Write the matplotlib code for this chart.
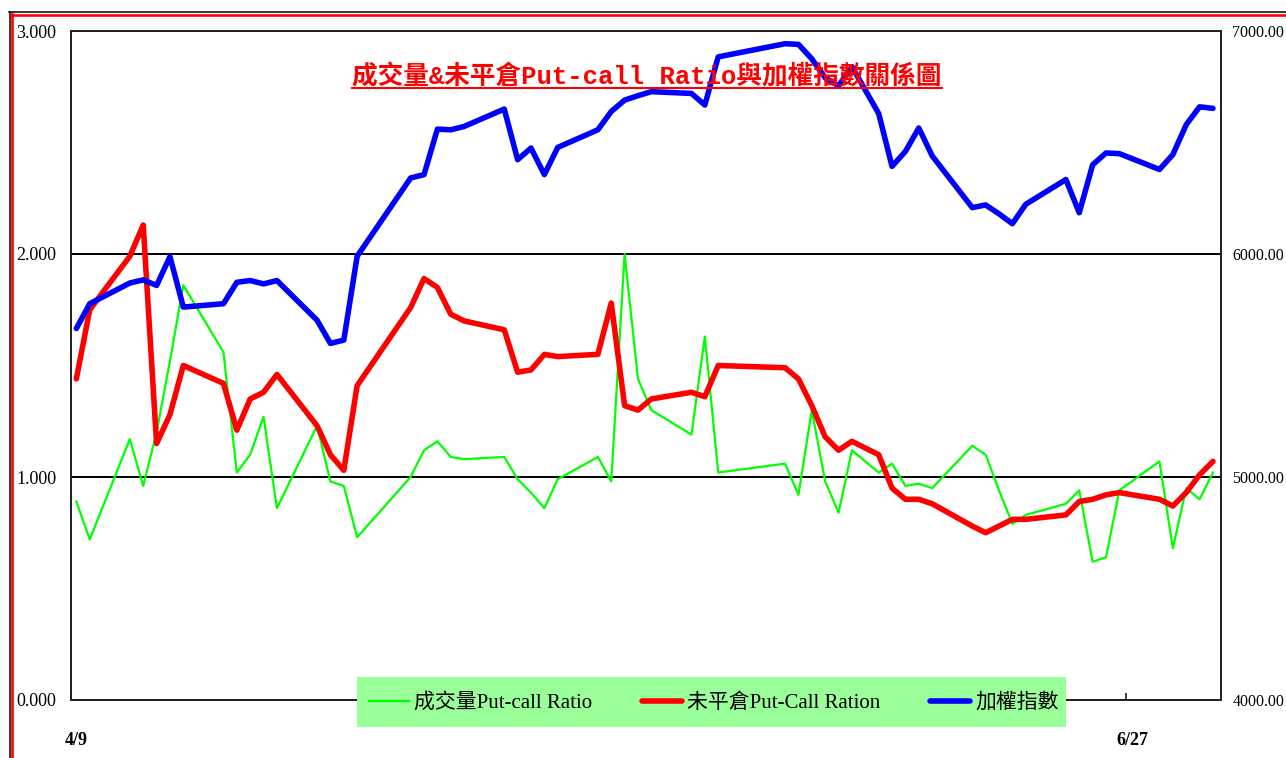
import matplotlib
matplotlib.use('Agg')
import matplotlib.pyplot as plt
from matplotlib.lines import Line2D
from matplotlib.patches import Rectangle
import pandas as pd

# trading days (2009)
dates = ['4/9', '4/10', '4/13', '4/14', '4/15', '4/16', '4/17',
         '4/20', '4/21', '4/22', '4/23', '4/24',
         '4/27', '4/28', '4/29', '4/30',
         '5/4', '5/5', '5/6', '5/7', '5/8',
         '5/11', '5/12', '5/13', '5/14', '5/15',
         '5/18', '5/19', '5/20', '5/21', '5/22',
         '5/25', '5/26', '5/27',
         '6/1', '6/2', '6/3', '6/4', '6/5', '6/6',
         '6/8', '6/9', '6/10', '6/11', '6/12',
         '6/15', '6/16', '6/17', '6/18', '6/19',
         '6/22', '6/23', '6/24', '6/25', '6/26',
         '6/29', '6/30', '7/1', '7/2', '7/3']

vol_pcr = [0.89, 0.72, 1.17, 0.96, 1.20, 1.52, 1.86,
           1.56, 1.02, 1.10, 1.27, 0.86,
           1.23, 0.98, 0.96, 0.73,
           1.00, 1.12, 1.16, 1.09, 1.08,
           1.09, 0.99, 0.93, 0.86, 0.99,
           1.09, 0.98, 2.00, 1.44, 1.30,
           1.19, 1.63, 1.02,
           1.06, 0.92, 1.30, 0.98, 0.84, 1.12,
           1.02, 1.06, 0.96, 0.97, 0.95,
           1.14, 1.10, 0.94, 0.79, 0.83,
           0.88, 0.94, 0.62, 0.64, 0.94,
           1.07, 0.68, 0.95, 0.90, 1.02]

oi_pcr = [1.44, 1.75, 1.99, 2.13, 1.15, 1.28, 1.50,
          1.42, 1.21, 1.35, 1.38, 1.46,
          1.23, 1.10, 1.03, 1.41,
          1.76, 1.89, 1.85, 1.73, 1.70,
          1.66, 1.47, 1.48, 1.55, 1.54,
          1.55, 1.78, 1.32, 1.30, 1.35,
          1.38, 1.36, 1.50,
          1.49, 1.44, 1.32, 1.18, 1.12, 1.16,
          1.10, 0.95, 0.90, 0.90, 0.88,
          0.78, 0.75, 0.78, 0.81, 0.81,
          0.83, 0.89, 0.90, 0.92, 0.93,
          0.90, 0.87, 0.93, 1.01, 1.07]

taiex = [5666, 5777, 5870, 5884, 5859, 5988, 5762,
         5777, 5873, 5881, 5866, 5881,
         5703, 5599, 5614, 5990,
         6341, 6356, 6560, 6557, 6572,
         6650, 6423, 6475, 6356, 6478,
         6557, 6639, 6690, 6710, 6728,
         6720, 6668, 6884,
         6943, 6940, 6875, 6790, 6754, 6840,
         6630, 6393, 6460, 6565, 6440,
         6208, 6220, 6180, 6136, 6223,
         6334, 6185, 6400, 6453, 6450,
         6379, 6446, 6580, 6660, 6653]

tick_dates = ['4/9', '6/27']
title = '成交量&未平倉Put-call Ratio與加權指數關係圖'
labels = ['成交量Put-call Ratio', '未平倉Put-Call Ration', '加權指數']

W, H = 1286, 758
fig = plt.figure(figsize=(W / 100, H / 100), dpi=100)


def fx(x):
    return x / W


def fy(y):
    return 1 - y / H


start = pd.to_datetime('2009/4/9')
days = [(pd.to_datetime('2009/' + d) - start).days for d in dates]
tick_days = [(pd.to_datetime('2009/' + d) - start).days for d in tick_dates]

ax = fig.add_axes([fx(71), fy(700), fx(1221) - fx(71), fy(31) - fy(700)])
ax2 = ax.twinx()

l1, = ax.plot(days, vol_pcr, color='#00ff00', lw=1.6, zorder=3)
l2, = ax.plot(days, oi_pcr, color='#ff0000', lw=4, zorder=4,
              solid_joinstyle='round', solid_capstyle='round')
l3, = ax2.plot(days, taiex, color='#0000ff', lw=4,
               solid_joinstyle='round', solid_capstyle='round')

ax.set_xlim(-0.4, 85.6)
ax.set_ylim(0, 3)
ax2.set_ylim(4000, 7000)

ax.set_yticks([0, 1, 2, 3])
ax.set_yticklabels(['%.3f' % v for v in [0, 1, 2, 3]])
ax2.set_yticks([4000, 5000, 6000, 7000])
ax2.set_yticklabels(['%.2f' % v for v in [4000, 5000, 6000, 7000]])
ax.yaxis.grid(True, color='black', lw=1.4)

ax.tick_params(axis='y', length=0, pad=39.6, labelsize=13)
ax2.tick_params(axis='y', length=0, pad=8.2, labelsize=11.5)
for lbl in ax.get_yticklabels():
    lbl.set_ha('left')
    lbl.set_fontfamily('Liberation Serif')
for lbl in ax2.get_yticklabels():
    lbl.set_fontfamily('Liberation Serif')

ax.set_xticks([tick_days[0], tick_days[1]])
ax.set_xticklabels(tick_dates, fontfamily='Liberation Serif',
                   fontweight='bold', fontsize=13)
ax.tick_params(axis='x', which='major', length=0, pad=23)
ax.set_xticks([tick_days[1] - 0.5], minor=True)
ax.tick_params(axis='x', which='minor', direction='in', length=5,
               width=1.2, color='#222222')

for a in (ax, ax2):
    for s in a.spines.values():
        s.set_color('#222222')
        s.set_linewidth(1.3)

# title with underline
t = fig.text(fx(647), fy(84), title, ha='center', va='baseline', color='red',
             fontsize=20, fontweight='bold',
             family=['Liberation Mono', 'Noto Sans CJK TC'])
fig.canvas.draw()
bb = t.get_window_extent()
t.set_fontsize(20 * 590 / bb.width)
fig.canvas.draw()
bb = t.get_window_extent()
fig.add_artist(Line2D([bb.x0 / W, bb.x1 / W], [fy(87.5)] * 2, color='red',
                      lw=1.5, transform=fig.transFigure))

# legend with green box
fig.add_artist(Rectangle((fx(357), fy(727)), fx(1066) - fx(357),
                         fy(677) - fy(727), transform=fig.transFigure,
                         facecolor='#99ff99', edgecolor='none', zorder=1))
fig.legend([l1, l2, l3], labels, loc='center',
           bbox_to_anchor=(fx(714), fy(703)), ncol=3, frameon=False,
           prop={'family': ['Liberation Serif', 'Noto Sans CJK TC'], 'size': 15},
           handlelength=1.9, handletextpad=0.25, columnspacing=2.4)

# outer frame (top and left visible)
fig.add_artist(Line2D([fx(9), 1], [fy(12.4)] * 2, color='black', lw=1.1,
                      transform=fig.transFigure))
fig.add_artist(Line2D([fx(9.8)] * 2, [fy(12), 0], color='black', lw=1.1,
                      transform=fig.transFigure))
fig.add_artist(Line2D([fx(11), 1], [fy(14.6)] * 2, color='red', lw=1.9,
                      transform=fig.transFigure))
fig.add_artist(Line2D([fx(12.1)] * 2, [fy(13.5), 0], color='red', lw=1.9,
                      transform=fig.transFigure))

fig.savefig('out.png', dpi=100)
